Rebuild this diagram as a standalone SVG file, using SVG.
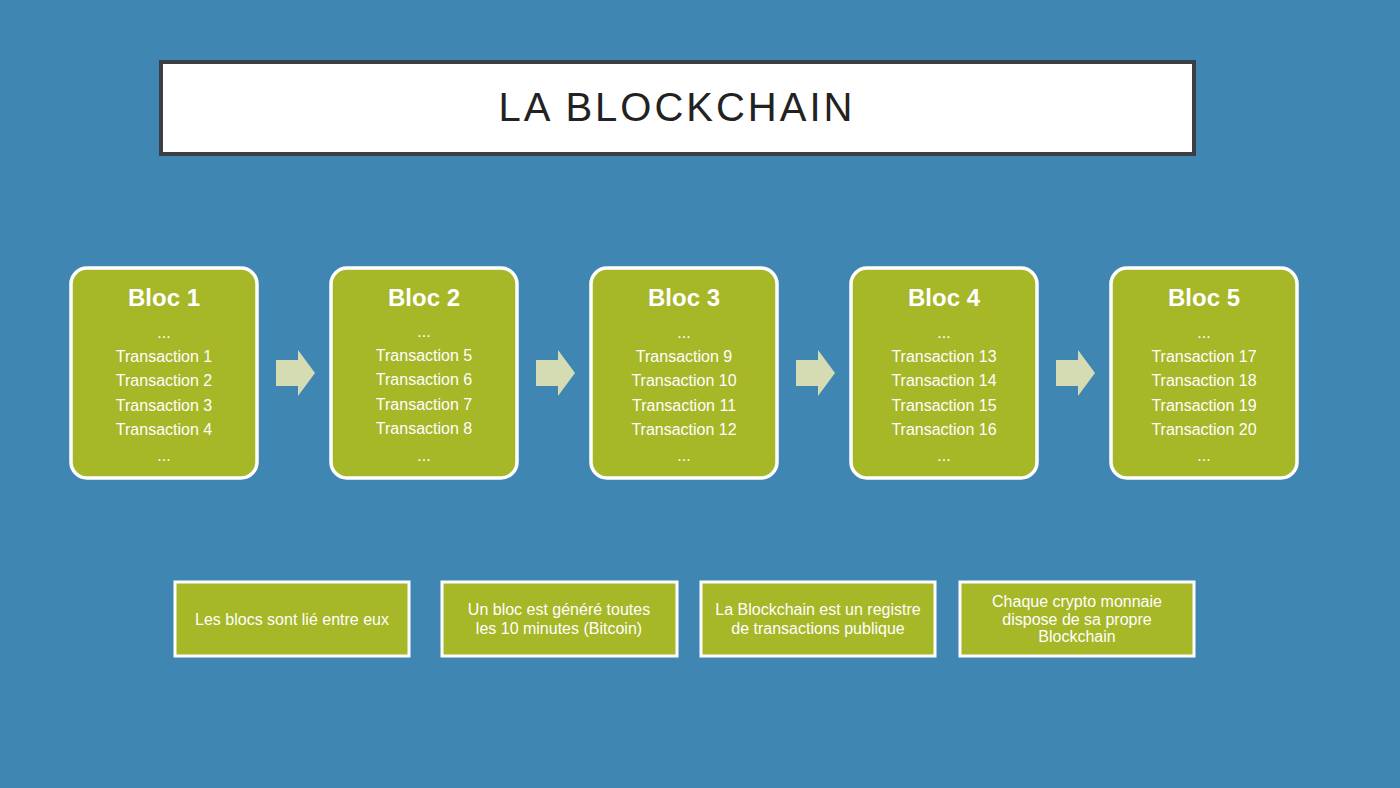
<svg xmlns="http://www.w3.org/2000/svg" width="1400" height="788" viewBox="0 0 1400 788">
<defs>
<style>
.blk{fill:#a6b727;stroke:#fff;stroke-width:3.5}
.ttl{font-family:"Liberation Sans",sans-serif;font-weight:bold;font-size:24px;fill:#fff;text-anchor:middle}
.tx{font-family:"Liberation Sans",sans-serif;font-size:16px;fill:#fff;text-anchor:middle}
.note{fill:#a6b727;stroke:#fff;stroke-width:3}
.arr{fill:#d5dcb4}
</style>
<g id="arrow"><polygon class="arr" points="276,360 298,360 298,350 315,373 298,396 298,386 276,386"/></g>
</defs>
<rect width="1400" height="788" fill="#3f87b2"/>
<g id="title">
<rect x="161" y="62" width="1033" height="92" fill="#fff" stroke="#3a3f44" stroke-width="4"/>
<text x="677" y="121" font-family="'Liberation Sans',sans-serif" font-size="40" letter-spacing="3" fill="#222" text-anchor="middle">LA BLOCKCHAIN</text>
</g>
<g id="connectors">
<use href="#arrow"/>
<use href="#arrow" x="260"/>
<use href="#arrow" x="520"/>
<use href="#arrow" x="780"/>
</g>
<g id="bloc1"><rect class="blk" x="71" y="268" width="186" height="210" rx="16"/>
<text class="ttl" x="164" y="306">Bloc 1</text>
<text class="tx" x="164" y="338">...</text><text class="tx" x="164" y="362">Transaction 1</text><text class="tx" x="164" y="386">Transaction 2</text><text class="tx" x="164" y="411">Transaction 3</text><text class="tx" x="164" y="435">Transaction 4</text><text class="tx" x="164" y="461">...</text></g>
<g id="bloc2"><rect class="blk" x="331" y="268" width="186" height="210" rx="16"/>
<text class="ttl" x="424" y="306">Bloc 2</text>
<text class="tx" x="424" y="337">...</text><text class="tx" x="424" y="361">Transaction 5</text><text class="tx" x="424" y="385">Transaction 6</text><text class="tx" x="424" y="410">Transaction 7</text><text class="tx" x="424" y="434">Transaction 8</text><text class="tx" x="424" y="461">...</text></g>
<g id="bloc3"><rect class="blk" x="591" y="268" width="186" height="210" rx="16"/>
<text class="ttl" x="684" y="306">Bloc 3</text>
<text class="tx" x="684" y="338">...</text><text class="tx" x="684" y="362">Transaction 9</text><text class="tx" x="684" y="386">Transaction 10</text><text class="tx" x="684" y="411">Transaction 11</text><text class="tx" x="684" y="435">Transaction 12</text><text class="tx" x="684" y="461">...</text></g>
<g id="bloc4"><rect class="blk" x="851" y="268" width="186" height="210" rx="16"/>
<text class="ttl" x="944" y="306">Bloc 4</text>
<text class="tx" x="944" y="338">...</text><text class="tx" x="944" y="362">Transaction 13</text><text class="tx" x="944" y="386">Transaction 14</text><text class="tx" x="944" y="411">Transaction 15</text><text class="tx" x="944" y="435">Transaction 16</text><text class="tx" x="944" y="461">...</text></g>
<g id="bloc5"><rect class="blk" x="1111" y="268" width="186" height="210" rx="16"/>
<text class="ttl" x="1204" y="306">Bloc 5</text>
<text class="tx" x="1204" y="338">...</text><text class="tx" x="1204" y="362">Transaction 17</text><text class="tx" x="1204" y="386">Transaction 18</text><text class="tx" x="1204" y="411">Transaction 19</text><text class="tx" x="1204" y="435">Transaction 20</text><text class="tx" x="1204" y="461">...</text></g>
<g id="note1"><rect class="note" x="175" y="582" width="234" height="74"/><text class="tx" x="292" y="625">Les blocs sont lié entre eux</text></g>
<g id="note2"><rect class="note" x="442" y="582" width="235" height="74"/><text class="tx" x="559" y="615">Un bloc est généré toutes</text><text class="tx" x="559" y="634">les 10 minutes (Bitcoin)</text></g>
<g id="note3"><rect class="note" x="701" y="582" width="234" height="74"/><text class="tx" x="818" y="615">La Blockchain est un registre</text><text class="tx" x="818" y="634">de transactions publique</text></g>
<g id="note4"><rect class="note" x="960" y="582" width="234" height="74"/><text class="tx" x="1077" y="607">Chaque crypto monnaie</text><text class="tx" x="1077" y="625">dispose de sa propre</text><text class="tx" x="1077" y="642">Blockchain</text></g>
</svg>
